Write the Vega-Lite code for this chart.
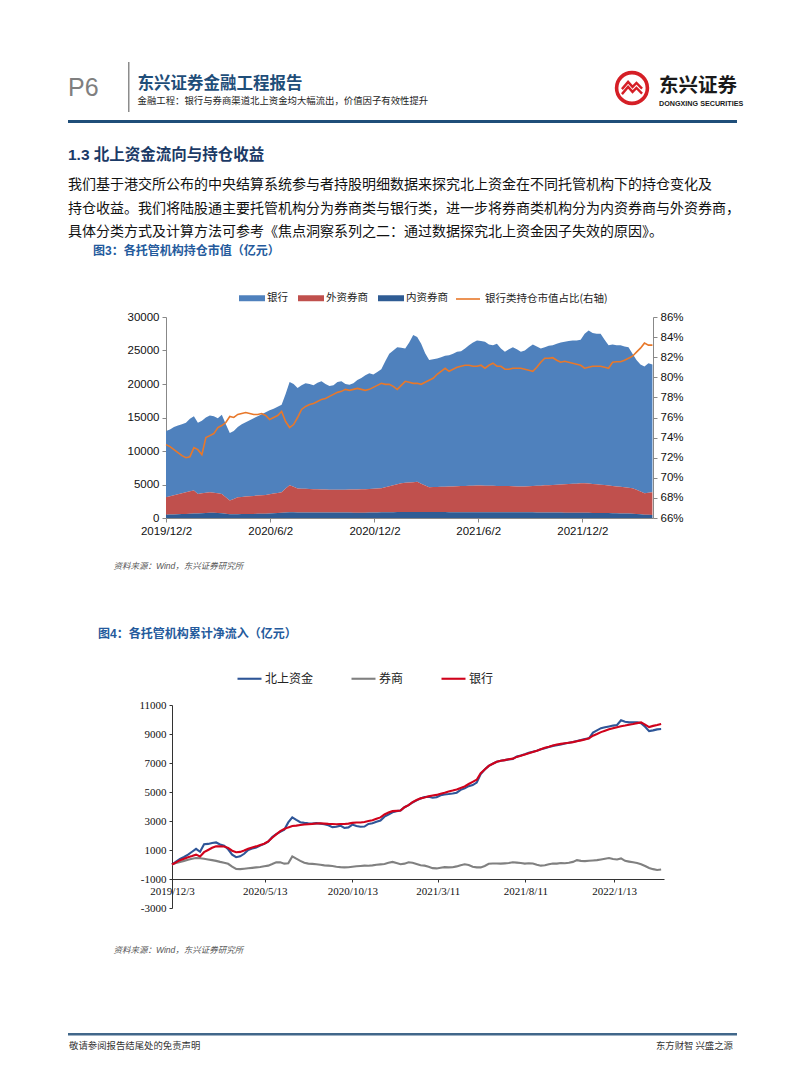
{
  "$schema": "https://vega.github.io/schema/vega-lite/v6.json",
  "padding": {"top": 62, "left": 68, "right": 0, "bottom": 0},
  "background": "white",
  "spacing": 6,
  "resolve": {"scale": {"fill": "independent", "stroke": "independent", "color": "independent"}, "legend": {"fill": "independent", "stroke": "independent", "color": "independent"}},
  "config": {
    "view": {"stroke": null},
    "font": "Liberation Sans, Noto Sans CJK SC",
    "concat": {"spacing": 6}
  },
  "datasets": {
    "c1": [
      {"日期":"2019/12/02","银行":9900,"外资券商":2600,"内资券商":500,"占比":73.3},
      {"日期":"2019/12/09","银行":9950,"外资券商":2730,"内资券商":520,"占比":73.1},
      {"日期":"2019/12/16","银行":10200,"外资券商":2860,"内资券商":540,"占比":72.8},
      {"日期":"2019/12/23","银行":10250,"外资券商":2990,"内资券商":560,"占比":72.5},
      {"日期":"2019/12/30","银行":10300,"外资券商":3120,"内资券商":580,"占比":72.2},
      {"日期":"2020/01/06","银行":10350,"外资券商":3250,"内资券商":600,"占比":72.0},
      {"日期":"2020/01/13","银行":10820,"外资券商":3350,"内资券商":630,"占比":72.1},
      {"日期":"2020/01/20","银行":11100,"外资券商":3440,"内资券商":660,"占比":73.0},
      {"日期":"2020/01/27","银行":10600,"外资券商":2910,"内资券商":690,"占比":72.8},
      {"日期":"2020/02/03","银行":10800,"外资券商":2990,"内资券商":710,"占比":72.3},
      {"日期":"2020/02/10","银行":11220,"外资券商":3040,"内资券商":740,"占比":74.0},
      {"日期":"2020/02/17","银行":11450,"外资券商":3080,"内资券商":770,"占比":74.2},
      {"日期":"2020/02/24","银行":11430,"外资券商":2970,"内资券商":800,"占比":74.4},
      {"日期":"2020/03/02","银行":11220,"外资券商":2920,"内资券商":760,"占比":75.0},
      {"日期":"2020/03/09","银行":11800,"外资券商":2900,"内资券商":700,"占比":75.2},
      {"日期":"2020/03/16","银行":10900,"外资券商":2480,"内资券商":620,"占比":75.5},
      {"日期":"2020/03/23","银行":10100,"外资券商":2050,"内资券商":550,"占比":76.1},
      {"日期":"2020/03/30","银行":10150,"外资券商":2290,"内资券商":560,"占比":76.0},
      {"日期":"2020/04/06","银行":10500,"外资券商":2530,"内资券商":570,"占比":76.3},
      {"日期":"2020/04/13","银行":10850,"外资券商":2570,"内资券商":580,"占比":76.4},
      {"日期":"2020/04/20","银行":11100,"外资券商":2610,"内资券商":590,"占比":76.5},
      {"日期":"2020/04/27","银行":11350,"外资券商":2650,"内资券商":600,"占比":76.4},
      {"日期":"2020/05/04","银行":11600,"外资券商":2690,"内资券商":610,"占比":76.3},
      {"日期":"2020/05/11","银行":11850,"外资券商":2730,"内资券商":620,"占比":76.3},
      {"日期":"2020/05/18","银行":12100,"外资券商":2765,"内资券商":635,"占比":76.4},
      {"日期":"2020/05/25","银行":12350,"外资券商":2800,"内资券商":650,"占比":76.2},
      {"日期":"2020/06/01","银行":12550,"外资券商":2870,"内资券商":680,"占比":75.8},
      {"日期":"2020/06/08","银行":12650,"外资券商":2940,"内资券商":710,"占比":76.0},
      {"日期":"2020/06/15","银行":12850,"外资券商":3010,"内资券商":740,"占比":76.2},
      {"日期":"2020/06/22","银行":13050,"外资券商":3080,"内资券商":770,"占比":76.6},
      {"日期":"2020/06/29","银行":14100,"外资券商":3590,"内资券商":810,"占比":75.6},
      {"日期":"2020/07/06","银行":15400,"外资券商":4050,"内资券商":850,"占比":75.0},
      {"日期":"2020/07/13","银行":15350,"外资券商":3810,"内资券商":840,"占比":75.3},
      {"日期":"2020/07/20","银行":15000,"外资券商":3570,"内资券商":830,"占比":76.0},
      {"日期":"2020/07/27","银行":15420,"外资券商":3550,"内资券商":830,"占比":76.8},
      {"日期":"2020/08/03","银行":15750,"外资券商":3525,"内资券商":825,"占比":77.1},
      {"日期":"2020/08/10","银行":15670,"外资券商":3505,"内资券商":825,"占比":77.3},
      {"日期":"2020/08/17","银行":15500,"外资券商":3480,"内资券商":820,"占比":77.4},
      {"日期":"2020/08/24","银行":15920,"外资券商":3460,"内资券商":820,"占比":77.6},
      {"日期":"2020/08/31","银行":16140,"外资券商":3445,"内资券商":815,"占比":77.8},
      {"日期":"2020/09/07","银行":15760,"外资券商":3425,"内资券商":815,"占比":77.9},
      {"日期":"2020/09/14","银行":15480,"外资券商":3410,"内资券商":810,"占比":78.1},
      {"日期":"2020/09/21","银行":15600,"外资券商":3390,"内资券商":810,"占比":78.3},
      {"日期":"2020/09/28","银行":16090,"外资券商":3400,"内资券商":810,"占比":78.5},
      {"日期":"2020/10/05","银行":16180,"外资券商":3415,"内资券商":805,"占比":78.6},
      {"日期":"2020/10/12","银行":15770,"外资券商":3425,"内资券商":805,"占比":78.8},
      {"日期":"2020/10/19","银行":15660,"外资券商":3435,"内资券商":805,"占比":78.7},
      {"日期":"2020/10/26","银行":15850,"外资券商":3450,"内资券商":800,"占比":78.8},
      {"日期":"2020/11/02","银行":16340,"外资券商":3460,"内资券商":800,"占比":78.9},
      {"日期":"2020/11/09","银行":16620,"外资券商":3480,"内资券商":800,"占比":78.8},
      {"日期":"2020/11/16","银行":17000,"外资券商":3500,"内资券商":800,"占比":78.7},
      {"日期":"2020/11/23","银行":17260,"外资券商":3530,"内资券商":810,"占比":78.8},
      {"日期":"2020/11/30","银行":17030,"外资券商":3550,"内资券商":820,"占比":79.0},
      {"日期":"2020/12/07","银行":17390,"外资券商":3580,"内资券商":830,"占比":79.2},
      {"日期":"2020/12/14","银行":17750,"外资券商":3610,"内资券商":840,"占比":79.4},
      {"日期":"2020/12/21","银行":18800,"外资券商":3750,"内资券商":850,"占比":79.3},
      {"日期":"2020/12/28","银行":19750,"外资券商":3890,"内资券商":860,"占比":79.3},
      {"日期":"2021/01/04","银行":20100,"外资券商":4030,"内资券商":870,"占比":79.1},
      {"日期":"2021/01/11","银行":20450,"外资券商":4170,"内资券商":880,"占比":78.8},
      {"日期":"2021/01/18","银行":20200,"外资券商":4310,"内资券商":890,"占比":79.2},
      {"日期":"2021/01/25","银行":20050,"外资券商":4350,"内资券商":900,"占比":79.6},
      {"日期":"2021/02/01","银行":20900,"外资券商":4400,"内资券商":900,"占比":79.5},
      {"日期":"2021/02/08","银行":21950,"外资券商":4450,"内资券商":900,"占比":79.4},
      {"日期":"2021/02/15","银行":21600,"外资券商":4500,"内资券商":900,"占比":79.4},
      {"日期":"2021/02/22","银行":20870,"外资券商":4235,"内资券商":895,"占比":79.3},
      {"日期":"2021/03/01","银行":19740,"外资券商":3970,"内资券商":890,"占比":79.5},
      {"日期":"2021/03/08","银行":19000,"外资券商":3715,"内资券商":885,"占比":79.7},
      {"日期":"2021/03/15","银行":19080,"外资券商":3735,"内资券商":885,"占比":79.9},
      {"日期":"2021/03/22","银行":19160,"外资券商":3760,"内资券商":880,"占比":80.3},
      {"日期":"2021/03/29","银行":19340,"外资券商":3780,"内资券商":880,"占比":80.6},
      {"日期":"2021/04/05","银行":19520,"外资券商":3800,"内资券商":880,"占比":80.9},
      {"日期":"2021/04/12","银行":19600,"外资券商":3825,"内资券商":875,"占比":80.6},
      {"日期":"2021/04/19","银行":19780,"外资券商":3845,"内资券商":875,"占比":80.8},
      {"日期":"2021/04/26","银行":20060,"外资券商":3865,"内资券商":875,"占比":81.0},
      {"日期":"2021/05/03","银行":20140,"外资券商":3890,"内资券商":870,"占比":81.1},
      {"日期":"2021/05/10","银行":20520,"外资券商":3910,"内资券商":870,"占比":81.2},
      {"日期":"2021/05/17","银行":21000,"外资券商":3930,"内资券商":870,"占比":81.2},
      {"日期":"2021/05/24","银行":21370,"外资券商":3960,"内资券商":870,"占比":81.1},
      {"日期":"2021/05/31","银行":21650,"外资券商":3985,"内资券商":865,"占比":81.1},
      {"日期":"2021/06/07","银行":21560,"外资券商":3975,"内资券商":865,"占比":81.2},
      {"日期":"2021/06/14","银行":21470,"外资券商":3965,"内资券商":865,"占比":80.9},
      {"日期":"2021/06/21","银行":21080,"外资券商":3960,"内资券商":860,"占比":81.2},
      {"日期":"2021/06/28","银行":21000,"外资券商":3940,"内资券商":860,"占比":81.4},
      {"日期":"2021/07/05","银行":21210,"外资券商":3930,"内资券商":860,"占比":81.1},
      {"日期":"2021/07/12","银行":20520,"外资券商":3920,"内资券商":860,"占比":81.1},
      {"日期":"2021/07/19","银行":20030,"外资券商":3915,"内资券商":855,"占比":80.8},
      {"日期":"2021/07/26","银行":20440,"外资券商":3905,"内资券商":855,"占比":80.8},
      {"日期":"2021/08/02","银行":20760,"外资券商":3885,"内资券商":855,"占比":80.9},
      {"日期":"2021/08/09","银行":20480,"外资券商":3870,"内资券商":850,"占比":80.9},
      {"日期":"2021/08/16","银行":20090,"外资券商":3860,"内资券商":850,"占比":80.9},
      {"日期":"2021/08/23","银行":20300,"外资券商":3850,"内资券商":850,"占比":80.8},
      {"日期":"2021/08/30","银行":20770,"外资券商":3885,"内资券商":845,"占比":80.7},
      {"日期":"2021/09/06","银行":21130,"外资券商":3930,"内资券商":840,"占比":80.6},
      {"日期":"2021/09/13","银行":20800,"外资券商":3965,"内资券商":835,"占比":81.0},
      {"日期":"2021/09/20","银行":20470,"外资券商":4000,"内资券商":830,"占比":81.5},
      {"日期":"2021/09/27","银行":20630,"外资券商":4045,"内资券商":825,"占比":81.9},
      {"日期":"2021/10/04","银行":20800,"外资券商":4080,"内资券商":820,"占比":81.9},
      {"日期":"2021/10/11","银行":20870,"外资券商":4115,"内资券商":815,"占比":81.95},
      {"日期":"2021/10/18","银行":21030,"外资券商":4160,"内资券商":810,"占比":81.7},
      {"日期":"2021/10/25","银行":21200,"外资券商":4195,"内资券商":805,"占比":81.5},
      {"日期":"2021/11/01","银行":21270,"外资券商":4230,"内资券商":800,"占比":81.6},
      {"日期":"2021/11/08","银行":21330,"外资券商":4275,"内资券商":795,"占比":81.5},
      {"日期":"2021/11/15","银行":21400,"外资券商":4310,"内资券商":790,"占比":81.4},
      {"日期":"2021/11/22","银行":21370,"外资券商":4345,"内资券商":785,"占比":81.3},
      {"日期":"2021/11/29","银行":21430,"外资券商":4390,"内资券商":780,"占比":81.2},
      {"日期":"2021/12/06","银行":22300,"外资券商":4425,"内资券商":775,"占比":80.9},
      {"日期":"2021/12/13","银行":22860,"外资券商":4370,"内资券商":770,"占比":81.0},
      {"日期":"2021/12/20","银行":22520,"外资券商":4315,"内资券商":765,"占比":81.1},
      {"日期":"2021/12/27","银行":22470,"外资券商":4270,"内资券商":760,"占比":81.1},
      {"日期":"2022/01/03","银行":22530,"外资券商":4215,"内资券商":755,"占比":81.1},
      {"日期":"2022/01/10","银行":21690,"外资券商":4160,"内资券商":750,"占比":81.0},
      {"日期":"2022/01/17","银行":20950,"外资券商":4115,"内资券商":735,"占比":80.9},
      {"日期":"2022/01/24","银行":21120,"外资券商":4060,"内资券商":720,"占比":81.5},
      {"日期":"2022/01/31","银行":21080,"外资券商":4015,"内资券商":705,"占比":81.55},
      {"日期":"2022/02/07","银行":21150,"外资券商":3960,"内资券商":690,"占比":81.55},
      {"日期":"2022/02/14","银行":21020,"外资券商":3905,"内资券商":675,"占比":81.7},
      {"日期":"2022/02/21","银行":20980,"外资券商":3860,"内资券商":660,"占比":81.9},
      {"日期":"2022/02/28","银行":20050,"外资券商":3800,"内资券商":650,"占比":82.1},
      {"日期":"2022/03/07","银行":19400,"外资券商":3600,"内资券商":600,"占比":82.5},
      {"日期":"2022/03/14","银行":18950,"外资券商":3400,"内资券商":550,"占比":82.9},
      {"日期":"2022/03/21","银行":18900,"外资券商":3200,"内资券商":500,"占比":83.4},
      {"日期":"2022/03/28","银行":19320,"外资券商":3310,"内资券商":470,"占比":83.2},
      {"日期":"2022/04/04","银行":19050,"外资券商":3400,"内资券商":450,"占比":83.2}
    ],
    "c2": [
      {"日期":"2019/12/03","北上资金":0,"券商":0,"银行":0},
      {"日期":"2019/12/10","北上资金":200,"券商":100,"银行":150},
      {"日期":"2019/12/17","北上资金":380,"券商":180,"银行":300},
      {"日期":"2019/12/24","北上资金":520,"券商":250,"银行":400},
      {"日期":"2019/12/31","北上资金":680,"券商":330,"银行":500},
      {"日期":"2020/01/07","北上资金":880,"券商":400,"银行":580},
      {"日期":"2020/01/14","北上资金":1080,"券商":450,"银行":680},
      {"日期":"2020/01/21","北上资金":880,"券商":430,"银行":560},
      {"日期":"2020/01/28","北上资金":1400,"券商":400,"银行":850},
      {"日期":"2020/02/04","北上资金":1420,"券商":350,"银行":1000},
      {"日期":"2020/02/11","北上资金":1480,"券商":300,"银行":1150},
      {"日期":"2020/02/18","北上资金":1520,"券商":250,"银行":1250},
      {"日期":"2020/02/25","北上资金":1380,"券商":180,"银行":1260},
      {"日期":"2020/03/03","北上资金":1290,"券商":120,"银行":1240},
      {"日期":"2020/03/10","北上资金":1050,"券商":50,"银行":1150},
      {"日期":"2020/03/17","北上资金":680,"券商":-150,"银行":950},
      {"日期":"2020/03/24","北上资金":500,"券商":-310,"银行":850},
      {"日期":"2020/03/31","北上资金":560,"券商":-320,"银行":870},
      {"日期":"2020/04/07","北上资金":740,"券商":-290,"银行":960},
      {"日期":"2020/04/14","北上资金":1000,"券商":-260,"银行":1080},
      {"日期":"2020/04/21","北上资金":1100,"券商":-230,"银行":1180},
      {"日期":"2020/04/28","北上资金":1170,"券商":-200,"银行":1250},
      {"日期":"2020/05/05","北上资金":1300,"券商":-170,"银行":1350},
      {"日期":"2020/05/12","北上资金":1420,"券商":-120,"银行":1430},
      {"日期":"2020/05/19","北上资金":1580,"券商":-80,"银行":1600},
      {"日期":"2020/05/26","北上资金":1900,"券商":30,"银行":1850},
      {"日期":"2020/06/02","北上资金":2100,"券商":150,"银行":2080},
      {"日期":"2020/06/09","北上资金":2250,"券商":150,"银行":2300},
      {"日期":"2020/06/16","北上资金":2400,"券商":60,"银行":2450},
      {"日期":"2020/06/23","北上资金":2900,"券商":90,"银行":2560},
      {"日期":"2020/06/30","北上资金":3250,"券商":560,"银行":2650},
      {"日期":"2020/07/07","北上资金":3080,"券商":400,"银行":2680},
      {"日期":"2020/07/14","北上资金":2920,"券商":250,"银行":2720},
      {"日期":"2020/07/21","北上资金":2870,"券商":120,"银行":2760},
      {"日期":"2020/07/28","北上资金":2840,"券商":60,"银行":2780},
      {"日期":"2020/08/04","北上资金":2830,"券商":40,"银行":2800},
      {"日期":"2020/08/11","北上资金":2850,"券商":20,"银行":2830},
      {"日期":"2020/08/18","北上资金":2820,"券商":-20,"银行":2840},
      {"日期":"2020/08/25","北上资金":2780,"券商":-60,"银行":2820},
      {"日期":"2020/09/01","北上资金":2700,"券商":-80,"银行":2800},
      {"日期":"2020/09/08","北上资金":2580,"券商":-100,"银行":2790},
      {"日期":"2020/09/15","北上资金":2600,"券商":-150,"银行":2780},
      {"日期":"2020/09/22","北上资金":2680,"券商":-180,"银行":2790},
      {"日期":"2020/09/29","北上资金":2520,"券商":-200,"银行":2790},
      {"日期":"2020/10/06","北上资金":2560,"券商":-190,"银行":2820},
      {"日期":"2020/10/13","北上资金":2750,"券商":-150,"银行":2870},
      {"日期":"2020/10/20","北上资金":2650,"券商":-120,"银行":2900},
      {"日期":"2020/10/27","北上资金":2600,"券商":-100,"银行":2900},
      {"日期":"2020/11/03","北上资金":2620,"券商":-80,"银行":2930},
      {"日期":"2020/11/10","北上资金":2800,"券商":-90,"银行":3000},
      {"日期":"2020/11/17","北上资金":2850,"券商":-60,"银行":3050},
      {"日期":"2020/11/24","北上资金":2950,"券商":-20,"银行":3150},
      {"日期":"2020/12/01","北上资金":3030,"券商":10,"银行":3250},
      {"日期":"2020/12/08","北上资金":3300,"券商":40,"银行":3450},
      {"日期":"2020/12/15","北上资金":3450,"券商":120,"银行":3580},
      {"日期":"2020/12/22","北上资金":3600,"券商":180,"银行":3680},
      {"日期":"2020/12/29","北上资金":3680,"券商":100,"银行":3700},
      {"日期":"2021/01/05","北上资金":3730,"券商":20,"银行":3720},
      {"日期":"2021/01/12","北上资金":3950,"券商":60,"银行":3950},
      {"日期":"2021/01/19","北上资金":4100,"券商":150,"银行":4100},
      {"日期":"2021/01/26","北上资金":4280,"券商":120,"银行":4300},
      {"日期":"2021/02/02","北上资金":4420,"券商":40,"银行":4450},
      {"日期":"2021/02/09","北上资金":4550,"券商":-50,"银行":4560},
      {"日期":"2021/02/16","北上资金":4650,"券商":-80,"银行":4620},
      {"日期":"2021/02/23","北上资金":4670,"券商":-150,"银行":4700},
      {"日期":"2021/03/02","北上资金":4600,"券商":-250,"银行":4760},
      {"日期":"2021/03/09","北上资金":4640,"券商":-270,"银行":4800},
      {"日期":"2021/03/16","北上资金":4780,"券商":-220,"银行":4880},
      {"日期":"2021/03/23","北上资金":4830,"券商":-180,"银行":4950},
      {"日期":"2021/03/30","北上资金":4860,"券商":-200,"银行":5030},
      {"日期":"2021/04/06","北上资金":4900,"券商":-190,"银行":5100},
      {"日期":"2021/04/13","北上资金":4950,"券商":-130,"银行":5180},
      {"日期":"2021/04/20","北上资金":5150,"券商":-50,"银行":5280},
      {"日期":"2021/04/27","北上资金":5250,"券商":20,"银行":5380},
      {"日期":"2021/05/04","北上资金":5400,"券商":-30,"银行":5550},
      {"日期":"2021/05/11","北上资金":5480,"券商":-150,"银行":5700},
      {"日期":"2021/05/18","北上资金":5650,"券商":-200,"银行":5850},
      {"日期":"2021/05/25","北上资金":6240,"券商":-200,"银行":6300},
      {"日期":"2021/06/01","北上资金":6550,"券商":-100,"银行":6550},
      {"日期":"2021/06/08","北上资金":6800,"券商":50,"银行":6800},
      {"日期":"2021/06/15","北上资金":6950,"券商":70,"银行":6950},
      {"日期":"2021/06/22","北上资金":7080,"券商":70,"银行":7080},
      {"日期":"2021/06/29","北上资金":7160,"券商":60,"银行":7150},
      {"日期":"2021/07/06","北上资金":7200,"券商":80,"银行":7200},
      {"日期":"2021/07/13","北上资金":7250,"券商":100,"银行":7260},
      {"日期":"2021/07/20","北上资金":7280,"券商":150,"银行":7300},
      {"日期":"2021/07/27","北上资金":7450,"券商":130,"银行":7420},
      {"日期":"2021/08/03","北上资金":7520,"券商":100,"银行":7500},
      {"日期":"2021/08/10","北上资金":7600,"券商":60,"银行":7580},
      {"日期":"2021/08/17","北上资金":7700,"券商":90,"银行":7680},
      {"日期":"2021/08/24","北上资金":7780,"券商":70,"银行":7760},
      {"日期":"2021/08/31","北上资金":7850,"券商":-20,"银行":7850},
      {"日期":"2021/09/07","北上资金":7950,"券商":-80,"银行":7950},
      {"日期":"2021/09/14","北上资金":8020,"券商":-50,"银行":8050},
      {"日期":"2021/09/21","北上资金":8100,"券商":20,"银行":8120},
      {"日期":"2021/09/28","北上资金":8180,"券商":70,"银行":8200},
      {"日期":"2021/10/05","北上资金":8220,"券商":60,"银行":8270},
      {"日期":"2021/10/12","北上资金":8280,"券商":100,"银行":8320},
      {"日期":"2021/10/19","北上资金":8350,"券商":90,"银行":8360},
      {"日期":"2021/10/26","北上资金":8400,"券商":120,"银行":8400},
      {"日期":"2021/11/02","北上资金":8450,"券商":180,"银行":8440},
      {"日期":"2021/11/09","北上资金":8520,"券商":300,"银行":8500},
      {"日期":"2021/11/16","北上资金":8580,"券商":250,"银行":8560},
      {"日期":"2021/11/23","北上资金":8650,"券商":230,"银行":8620},
      {"日期":"2021/11/30","北上资金":8700,"券商":260,"银行":8700},
      {"日期":"2021/12/07","北上资金":9100,"券商":280,"银行":8880},
      {"日期":"2021/12/14","北上资金":9250,"券商":300,"银行":9000},
      {"日期":"2021/12/21","北上资金":9400,"券商":350,"银行":9130},
      {"日期":"2021/12/28","北上资金":9460,"券商":400,"银行":9230},
      {"日期":"2022/01/04","北上资金":9520,"券商":450,"银行":9320},
      {"日期":"2022/01/11","北上资金":9580,"券商":380,"银行":9400},
      {"日期":"2022/01/18","北上资金":9620,"券商":350,"银行":9470},
      {"日期":"2022/01/25","北上资金":9950,"券商":420,"银行":9530},
      {"日期":"2022/02/01","北上资金":9850,"券商":250,"银行":9580},
      {"日期":"2022/02/08","北上资金":9800,"券商":200,"银行":9640},
      {"日期":"2022/02/15","北上资金":9800,"券商":150,"银行":9690},
      {"日期":"2022/02/22","北上资金":9800,"券商":100,"银行":9750},
      {"日期":"2022/03/01","北上资金":9750,"券商":20,"银行":9800},
      {"日期":"2022/03/08","北上资金":9500,"券商":-100,"银行":9650},
      {"日期":"2022/03/15","北上资金":9200,"券商":-240,"银行":9480},
      {"日期":"2022/03/22","北上资金":9250,"券商":-320,"银行":9560},
      {"日期":"2022/03/29","北上资金":9320,"券商":-380,"银行":9620},
      {"日期":"2022/04/05","北上资金":9340,"券商":-350,"银行":9690}
    ]
  },
  "vconcat": [
    {
      "spacing": 0,
      "hconcat": [
        {
          "width": 60, "height": 1,
          "data": {"values": []},
          "mark": "point",
          "title": {"text": "P6", "orient": "bottom", "anchor": "start", "offset": 13, "fontSize": 25, "font": "Liberation Sans", "fontWeight": "normal", "color": "#7F7F7F"}
        },
        {
          "width": 1.5, "height": 50,
          "data": {"values": []},
          "mark": "point",
          "view": {"fill": "#8C8C8C", "stroke": null}
        },
        {
          "width": 478.5, "height": 1,
          "data": {"values": []},
          "mark": "point",
          "title": {"text": "东兴证券金融工程报告", "subtitle": "金融工程：银行与券商渠道北上资金均大幅流出，价值因子有效性提升", "orient": "bottom", "anchor": "start", "dx": 7.5, "offset": 13, "fontSize": 16.5, "fontWeight": "bold", "color": "#1F4E79", "font": "Noto Sans CJK SC", "subtitleFont": "Noto Sans CJK SC", "subtitleFontSize": 9.4, "subtitleColor": "#222222", "subtitlePadding": 4}
        },
        {
          "width": 38, "height": 52,
          "data": {"values": [{"标志": "东兴证券"}]},
          "layer": [
            {"mark": {"type": "point", "shape": "circle", "size": 950, "filled": false, "stroke": "#D51F26", "strokeWidth": 3.6, "opacity": 1}},
            {"mark": {"type": "point", "shape": "M-0.9,0.1L-0.35,-0.55L0.05,-0.1L0.4,-0.45L0.9,0.05", "size": 500, "filled": false, "stroke": "#D51F26", "strokeWidth": 2.4, "opacity": 1}},
            {"mark": {"type": "point", "shape": "M-0.9,0.55L-0.35,-0.1L0.05,0.35L0.4,0.0L0.9,0.5", "size": 500, "filled": false, "stroke": "#D51F26", "strokeWidth": 2.4, "opacity": 1}}
          ]
        },
        {
          "width": 91, "height": 1,
          "data": {"values": []},
          "mark": "point",
          "title": {"text": "东兴证券", "subtitle": "DONGXING SECURITIES", "orient": "bottom", "anchor": "start", "dx": 4, "offset": 14, "fontSize": 19.5, "fontWeight": "bold", "color": "#1A1A1A", "font": "Noto Sans CJK SC", "subtitleFont": "Liberation Sans Narrow, Liberation Sans", "subtitleFontSize": 7.2, "subtitleFontWeight": "bold", "subtitleColor": "#1A1A1A", "subtitlePadding": 3}
        }
      ]
    },
    {
      "width": 669, "height": 3,
      "data": {"values": []},
      "mark": "point",
      "view": {"fill": "#1F4E79", "stroke": null}
    },
    {
      "width": 669, "height": 16,
      "data": {"values": []},
      "mark": "point",
      "title": {
        "text": "1.3 北上资金流向与持仓收益",
        "subtitle": [
          "我们基于港交所公布的中央结算系统参与者持股明细数据来探究北上资金在不同托管机构下的持仓变化及",
          "持仓收益。我们将陆股通主要托管机构分为券商类与银行类，进一步将券商类机构分为内资券商与外资券商，",
          "具体分类方式及计算方法可参考《焦点洞察系列之二：通过数据探究北上资金因子失效的原因》。"
        ],
        "orient": "bottom", "anchor": "start", "offset": 3,
        "fontSize": 15.5, "fontWeight": "bold", "color": "#1B3A66", "font": "Liberation Sans, Noto Sans CJK SC",
        "subtitleFont": "Noto Sans CJK SC", "subtitleFontSize": 14.0, "subtitleColor": "#111111", "subtitleLineHeight": 23.5, "subtitlePadding": 14.5
      }
    },
    {
      "width": 669, "height": 201,
      "data": {"name": "c1"},
      "title": {"text": "图3：各托管机构持仓市值（亿元）", "anchor": "start", "dx": 25, "offset": 27, "fontSize": 12, "fontWeight": "bold", "color": "#245A9C", "font": "Liberation Sans, Noto Sans CJK SC"},
      "layer": [
        {
          "transform": [{"fold": ["银行", "外资券商", "内资券商"], "as": ["类别", "市值"]}],
          "mark": {"type": "area", "opacity": 1},
          "encoding": {
            "x": {
              "field": "日期", "type": "temporal",
              "scale": {"domain": [{"year": 2019, "month": 12, "date": 2}, {"year": 2022, "month": 4, "date": 5}], "range": [98, 585]},
              "axis": {
                "values": [{"year": 2019, "month": 12, "date": 2}, {"year": 2020, "month": 6, "date": 2}, {"year": 2020, "month": 12, "date": 2}, {"year": 2021, "month": 6, "date": 2}, {"year": 2021, "month": 12, "date": 2}],
                "format": "%Y/%-m/%-d", "labelFont": "Liberation Sans", "labelFontSize": 11.5, "labelColor": "#111111",
                "labelFlush": false, "labelOverlap": false, "labelPadding": 3, "tickSize": 4, "tickColor": "#888888", "domainColor": "#888888", "grid": false,
                "title": "资料来源：Wind，东兴证券研究所", "titleFont": "Liberation Sans, Noto Sans CJK SC", "titleFontSize": 8.5, "titleFontStyle": "italic", "titleFontWeight": "normal", "titleColor": "#555555",
                "titleX": 45, "titleY": 43, "titleAlign": "left", "titleBaseline": "top"
              }
            },
            "y": {
              "field": "市值", "type": "quantitative", "stack": "zero",
              "scale": {"domain": [0, 30000], "nice": false},
              "axis": {"orient": "left", "offset": -98, "values": [0, 5000, 10000, 15000, 20000, 25000, 30000], "format": "d", "grid": false, "title": null, "labelFont": "Liberation Sans", "labelFontSize": 11.5, "labelColor": "#111111", "tickSize": 4, "tickColor": "#888888", "domainColor": "#888888", "labelPadding": 3}
            },
            "fill": {
              "field": "类别", "type": "nominal",
              "scale": {"domain": ["银行", "外资券商", "内资券商"], "range": ["#4F81BD", "#C0504D", "#2F5C94"]},
              "legend": {"orient": "none", "legendX": 171, "legendY": -32, "direction": "horizontal", "title": null, "symbolType": "M-1,-0.23L1,-0.23L1,0.23L-1,0.23Z", "symbolSize": 676, "symbolStrokeWidth": 0, "symbolOpacity": 1, "labelFont": "Noto Sans CJK SC", "labelFontSize": 10.5, "labelColor": "#222222", "labelOffset": 2, "columnPadding": 10, "padding": 0}
            },
            "order": {"field": "类别", "sort": "ascending"}
          }
        },
        {
          "mark": {"type": "line", "strokeWidth": 1.6},
          "encoding": {
            "x": {"field": "日期", "type": "temporal", "scale": {"domain": [{"year": 2019, "month": 12, "date": 2}, {"year": 2022, "month": 4, "date": 5}], "range": [98, 585]}},
            "y": {
              "field": "占比", "type": "quantitative",
              "scale": {"domain": [66, 86], "nice": false},
              "axis": {"orient": "right", "offset": -84, "values": [66, 68, 70, 72, 74, 76, 78, 80, 82, 84, 86], "labelExpr": "datum.value + '%'", "grid": false, "title": null, "labelFont": "Liberation Sans", "labelFontSize": 11.5, "labelColor": "#111111", "tickSize": 4, "tickColor": "#888888", "domainColor": "#888888", "labelPadding": 3}
            },
            "stroke": {
              "datum": "银行类持仓市值占比(右轴)", "type": "nominal",
              "scale": {"range": ["#E8782A"]},
              "legend": {"orient": "none", "legendX": 387, "legendY": -31, "direction": "horizontal", "title": null, "symbolType": "stroke", "symbolSize": 576, "symbolStrokeWidth": 1.6, "labelFont": "Noto Sans CJK SC", "labelFontSize": 10.5, "labelColor": "#222222", "labelOffset": 4, "padding": 0}
            }
          }
        }
      ],
      "resolve": {"scale": {"y": "independent"}}
    },
    {
      "width": 669, "height": 45.5,
      "data": {"values": []},
      "mark": "point"
    },
    {
      "width": 669, "height": 203,
      "data": {"name": "c2"},
      "transform": [{"fold": ["北上资金", "券商", "银行"], "as": ["系列", "净流入"]}],
      "title": {"text": "图4：各托管机构累计净流入（亿元）", "anchor": "start", "dx": 30, "offset": 24, "fontSize": 12, "fontWeight": "bold", "color": "#245A9C", "font": "Liberation Sans, Noto Sans CJK SC"},
      "mark": {"type": "line", "strokeWidth": 2.1},
      "encoding": {
        "x": {
          "field": "日期", "type": "temporal",
          "scale": {"domain": [{"year": 2019, "month": 12, "date": 3}, {"year": 2022, "month": 4, "date": 10}], "range": [104, 596]},
          "axis": {
            "orient": "bottom", "offset": -29,
            "values": [{"year": 2019, "month": 12, "date": 3}, {"year": 2020, "month": 5, "date": 13}, {"year": 2020, "month": 10, "date": 13}, {"year": 2021, "month": 3, "date": 11}, {"year": 2021, "month": 8, "date": 11}, {"year": 2022, "month": 1, "date": 13}],
            "format": "%Y/%-m/%-d", "labelFont": "Liberation Serif", "labelFontSize": 11, "labelColor": "#111111",
            "labelFlush": false, "labelOverlap": false, "labelPadding": 3, "tickSize": 3, "tickColor": "#333333", "domainColor": "#333333", "grid": false,
            "title": "资料来源：Wind，东兴证券研究所", "titleFont": "Liberation Sans, Noto Sans CJK SC", "titleFontSize": 8.5, "titleFontStyle": "italic", "titleFontWeight": "normal", "titleColor": "#555555",
            "titleX": 45, "titleY": 66, "titleAlign": "left", "titleBaseline": "top"
          }
        },
        "y": {
          "field": "净流入", "type": "quantitative",
          "scale": {"domain": [-3000, 11000], "nice": false},
          "axis": {"orient": "left", "offset": -104, "values": [-3000, -1000, 1000, 3000, 5000, 7000, 9000, 11000], "labelExpr": "'' + datum.value", "grid": false, "title": null, "labelFont": "Liberation Serif", "labelFontSize": 11, "labelColor": "#111111", "tickSize": 3, "tickColor": "#333333", "domainColor": "#333333", "labelPadding": 3}
        },
        "color": {
          "field": "系列", "type": "nominal",
          "scale": {"domain": ["北上资金", "券商", "银行"], "range": ["#2E5597", "#808080", "#D0021B"]},
          "legend": {"orient": "none", "legendX": 168, "legendY": -40, "direction": "horizontal", "title": null, "symbolType": "stroke", "symbolSize": 576, "symbolStrokeWidth": 2.1, "labelFont": "Liberation Serif, Noto Sans CJK SC", "labelFontSize": 12, "labelColor": "#222222", "labelOffset": 2, "columnPadding": 33, "padding": 0}
        }
      }
    },
    {
      "width": 669, "height": 66.5,
      "data": {"values": []},
      "mark": "point"
    },
    {
      "spacing": 0,
      "hconcat": [
        {
          "width": 400, "height": 2.5,
          "data": {"values": []},
          "mark": "point",
          "view": {"fill": "#41678A", "stroke": null},
          "title": {"text": "敬请参阅报告结尾处的免责声明", "orient": "bottom", "anchor": "start", "dx": 1, "offset": 6.5, "fontSize": 9.4, "fontWeight": "normal", "color": "#333333", "font": "Noto Sans CJK SC"}
        },
        {
          "width": 269, "height": 2.5,
          "data": {"values": []},
          "mark": "point",
          "view": {"fill": "#41678A", "stroke": null},
          "title": {"text": "东方财智 兴盛之源", "orient": "bottom", "anchor": "end", "dx": -4, "offset": 6.5, "fontSize": 9.4, "fontWeight": "normal", "color": "#333333", "font": "Noto Sans CJK SC"}
        }
      ]
    }
  ]
}
